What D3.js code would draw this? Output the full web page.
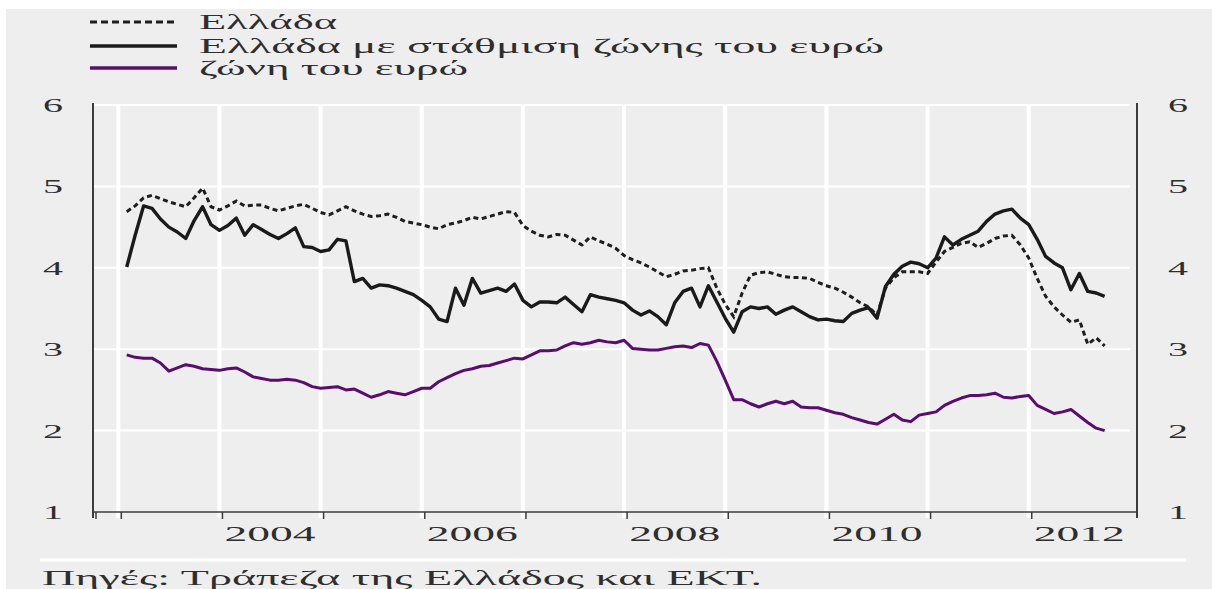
<!DOCTYPE html>
<html>
<head>
<meta charset="utf-8">
<script src="https://cdn.jsdelivr.net/npm/d3@7"></script>
<style>
  html, body { margin: 0; padding: 0; background: #ffffff; }
  svg { display: block; }
  text { font-family: "Liberation Serif", "DejaVu Serif", serif; fill: #2e2e2e; }
</style>
</head>
<body>
<svg id="chart" width="1212" height="589"></svg>
<script>
// ---------- data (monthly, Jan 2003 – Sep 2012) ----------
const startYear = 2003;
const seriesNames = ["Ελλάδα", "Ελλάδα με στάθμιση ζώνης του ευρώ", "ζώνη του ευρώ"];

const greece = [
  4.69, 4.76, 4.86, 4.89, 4.85, 4.81, 4.78, 4.75, 4.86, 4.98, 4.75, 4.71,
  4.76, 4.82, 4.76, 4.77, 4.77, 4.73, 4.70, 4.73, 4.76, 4.78, 4.73, 4.68,
  4.65, 4.70, 4.75, 4.70, 4.66, 4.63, 4.64, 4.66, 4.62, 4.57, 4.55, 4.53,
  4.50, 4.48, 4.53, 4.55, 4.58, 4.62, 4.60, 4.63, 4.66, 4.69, 4.68, 4.52,
  4.45, 4.40, 4.38, 4.41, 4.40, 4.34, 4.28, 4.38, 4.33, 4.29, 4.24, 4.15,
  4.10, 4.06, 4.01, 3.95, 3.89, 3.92, 3.96, 3.97, 3.99, 4.00, 3.75, 3.55,
  3.40, 3.69, 3.91, 3.94, 3.95, 3.92, 3.89, 3.88, 3.88, 3.87, 3.82, 3.78,
  3.75, 3.70, 3.64, 3.57, 3.52, 3.42, 3.75, 3.88, 3.95, 3.95, 3.95, 3.93,
  4.07, 4.20, 4.25, 4.30, 4.32, 4.25, 4.30, 4.36, 4.39, 4.40, 4.28, 4.12,
  3.87, 3.65, 3.52, 3.42, 3.33, 3.36, 3.06, 3.14, 3.04
];

const greeceWeighted = [
  4.01, 4.40, 4.76, 4.73, 4.60, 4.50, 4.44, 4.36, 4.58, 4.75, 4.53, 4.46,
  4.52, 4.61, 4.40, 4.53, 4.47, 4.41, 4.36, 4.42, 4.49, 4.26, 4.25, 4.20,
  4.22, 4.35, 4.33, 3.83, 3.87, 3.75, 3.79, 3.78, 3.75, 3.71, 3.67, 3.60,
  3.52, 3.37, 3.34, 3.75, 3.54, 3.87, 3.69, 3.72, 3.75, 3.71, 3.80, 3.60,
  3.52, 3.58, 3.58, 3.57, 3.64, 3.55, 3.46, 3.67, 3.64, 3.62, 3.60, 3.57,
  3.48, 3.42, 3.47, 3.40, 3.30, 3.57, 3.71, 3.75, 3.52, 3.78, 3.58, 3.38,
  3.21, 3.46, 3.52, 3.50, 3.52, 3.43, 3.48, 3.52, 3.46, 3.40, 3.36, 3.37,
  3.35, 3.34, 3.44, 3.48, 3.51, 3.38, 3.77, 3.92, 4.02, 4.07, 4.05, 4.00,
  4.12, 4.38, 4.28, 4.35, 4.40, 4.45, 4.57, 4.66, 4.70, 4.72, 4.61, 4.53,
  4.35, 4.14, 4.06, 4.00, 3.73, 3.93, 3.71, 3.69, 3.65
];

const euroArea = [
  2.93, 2.90, 2.89, 2.89, 2.83, 2.73, 2.77, 2.81, 2.79, 2.76, 2.75, 2.74,
  2.76, 2.77, 2.72, 2.66, 2.64, 2.62, 2.62, 2.63, 2.62, 2.59, 2.54, 2.52,
  2.53, 2.54, 2.50, 2.51, 2.46, 2.41, 2.44, 2.48, 2.46, 2.44, 2.48, 2.52,
  2.52, 2.60, 2.65, 2.70, 2.74, 2.76, 2.79, 2.80, 2.83, 2.86, 2.89, 2.88,
  2.93, 2.98, 2.98, 2.99, 3.04, 3.08, 3.06, 3.08, 3.11, 3.09, 3.08, 3.11,
  3.01, 3.00, 2.99, 2.99, 3.01, 3.03, 3.04, 3.02, 3.07, 3.05, 2.85, 2.62,
  2.38, 2.38, 2.33, 2.29, 2.33, 2.36, 2.33, 2.36, 2.29, 2.28, 2.28, 2.25,
  2.22, 2.20, 2.16, 2.13, 2.10, 2.08, 2.14, 2.20, 2.13, 2.11, 2.19, 2.21,
  2.23, 2.31, 2.36, 2.40, 2.43, 2.43, 2.44, 2.46, 2.41, 2.40, 2.42, 2.43,
  2.31, 2.26, 2.21, 2.23, 2.26, 2.18, 2.10, 2.03, 2.00
];

const yTicks = [1, 2, 3, 4, 5, 6];
const yearTicks = [2003, 2004, 2005, 2006, 2007, 2008, 2009, 2010, 2011, 2012];
const yearLabels = ["2004", "2006", "2008", "2010", "2012"];
const sourceNote = "Πηγές: Τράπεζα της Ελλάδος και ΕΚΤ.";

// ---------- layout ----------
const svg = d3.select("#chart");
const W = 1212, H = 589;
const pLeft = 93, pRight = 1137, pTop = 105, pBottom = 512;

const x = d3.scaleLinear().domain([2002.75, 2013.07]).range([pLeft, pRight]);
const y = d3.scaleLinear().domain([1, 6]).range([pBottom, pTop]);
const monthPos = i => startYear + (i + 1) / 12;

// page background
svg.append("rect").attr("x", 6).attr("y", 9).attr("width", W - 6).attr("height", H - 9).attr("fill", "#eeeeee");

// white horizontal gridlines
svg.append("g").selectAll("line").data(yTicks.filter(d => d > 1)).join("line")
  .attr("x1", pLeft).attr("x2", pRight - 7)
  .attr("y1", d => y(d)).attr("y2", d => y(d))
  .attr("stroke", "#ffffff").attr("stroke-width", 2);

// white vertical year separators
svg.append("g").selectAll("line").data(yearTicks).join("line")
  .attr("x1", d => x(d)).attr("x2", d => x(d))
  .attr("y1", pTop).attr("y2", pBottom + 6)
  .attr("stroke", "#ffffff").attr("stroke-width", 4);

// axes frame
const axisColor = "#3c3c3c";
svg.append("line").attr("x1", pLeft).attr("x2", pLeft).attr("y1", pTop - 2).attr("y2", pBottom + 6)
  .attr("stroke", axisColor).attr("stroke-width", 2);
svg.append("line").attr("x1", pRight).attr("x2", pRight).attr("y1", pTop - 2).attr("y2", pBottom + 6)
  .attr("stroke", axisColor).attr("stroke-width", 2);
svg.append("line").attr("x1", pLeft).attr("x2", pRight).attr("y1", pBottom).attr("y2", pBottom)
  .attr("stroke", axisColor).attr("stroke-width", 1.5);
svg.append("g").selectAll("line").data([2002.75].concat(yearTicks)).join("line")
  .attr("x1", d => x(d) + 3).attr("x2", d => x(d) + 3)
  .attr("y1", pBottom).attr("y2", pBottom + 7)
  .attr("stroke", axisColor).attr("stroke-width", 1.5);

// y labels left and right
svg.append("g").selectAll("text").data(yTicks).join("text")
  .attr("x", 53).attr("y", d => y(d) + 7)
  .attr("text-anchor", "middle").attr("font-size", 19)
  .attr("textLength", 20).attr("lengthAdjust", "spacingAndGlyphs")
  .text(d => d);
svg.append("g").selectAll("text").data(yTicks).join("text")
  .attr("x", 1178).attr("y", d => y(d) + 7)
  .attr("text-anchor", "middle").attr("font-size", 19)
  .attr("textLength", 20).attr("lengthAdjust", "spacingAndGlyphs")
  .text(d => d);

// year labels (centered within the year)
svg.append("g").selectAll("text").data(yearLabels).join("text")
  .attr("x", d => x(+d + 0.5)).attr("y", 541)
  .attr("text-anchor", "middle").attr("font-size", 21)
  .attr("textLength", 91).attr("lengthAdjust", "spacingAndGlyphs")
  .text(d => d);

// lines
const line = d3.line().x((d, i) => x(monthPos(i))).y(d => y(d));
svg.append("path").datum(euroArea).attr("d", line)
  .attr("fill", "none").attr("stroke", "#5a0d6e").attr("stroke-width", 3).attr("stroke-linejoin", "round");
svg.append("path").datum(greece).attr("d", line)
  .attr("fill", "none").attr("stroke", "#1e1e1e").attr("stroke-width", 3).attr("stroke-dasharray", "5,3.5");
svg.append("path").datum(greeceWeighted).attr("d", line)
  .attr("fill", "none").attr("stroke", "#1a1a1a").attr("stroke-width", 3.4).attr("stroke-linejoin", "round");

// legend
const legendRows = [
  { name: seriesNames[0], y: 22, color: "#1e1e1e", dash: "7,4", w: 3, len: 138 },
  { name: seriesNames[1], y: 46, color: "#1a1a1a", dash: null, w: 3.6, len: 685 },
  { name: seriesNames[2], y: 68, color: "#5a0d6e", dash: null, w: 3.4, len: 269 }
];
const lg = svg.append("g");
legendRows.forEach(r => {
  lg.append("line").attr("x1", 90).attr("x2", 177).attr("y1", r.y).attr("y2", r.y)
    .attr("stroke", r.color).attr("stroke-width", r.w).attr("stroke-dasharray", r.dash);
  lg.append("text").attr("x", 199).attr("y", r.y + 7).attr("font-size", 21)
    .attr("textLength", r.len).attr("lengthAdjust", "spacingAndGlyphs").text(r.name);
});

// footnote separator and source
svg.append("line").attr("x1", 40).attr("x2", 1186).attr("y1", 560).attr("y2", 560)
  .attr("stroke", "#ffffff").attr("stroke-width", 3);
svg.append("text").attr("x", 42).attr("y", 585).attr("font-size", 21)
  .attr("textLength", 720).attr("lengthAdjust", "spacingAndGlyphs").text(sourceNote);
</script>
</body>
</html>
